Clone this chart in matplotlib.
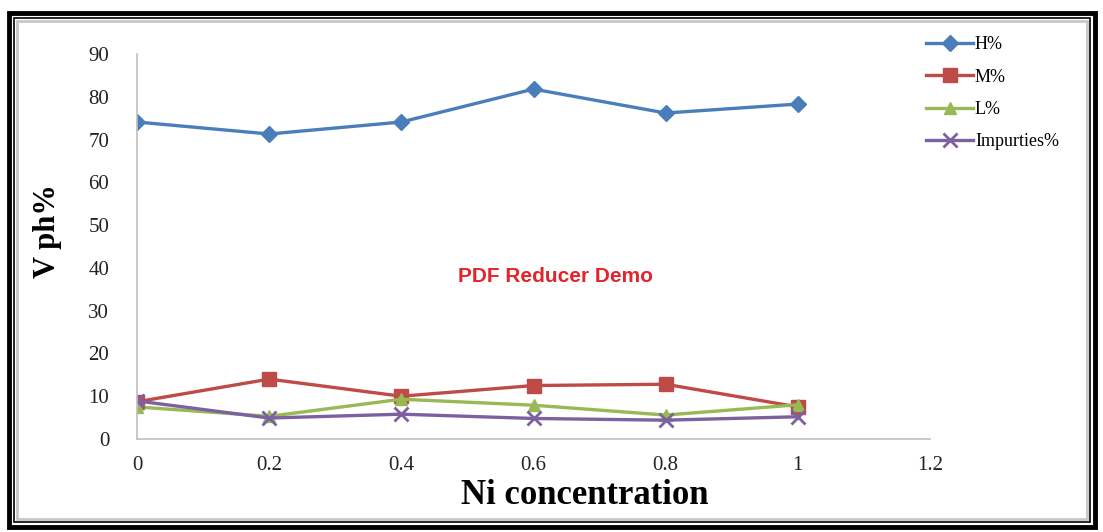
import matplotlib
matplotlib.use("Agg")
import matplotlib.pyplot as plt
from matplotlib.patches import Rectangle
from matplotlib.ticker import FuncFormatter

# values
ni_conc = [0, 0.2, 0.4, 0.6, 0.8, 1]
h_pct = [74.1, 71.3, 74.1, 81.8, 76.2, 78.3]
m_pct = [8.7, 14.0, 10.0, 12.5, 12.8, 7.5]
l_pct = [7.5, 5.3, 9.3, 7.9, 5.6, 8.0]
imp_pct = [8.9, 4.9, 5.8, 4.8, 4.4, 5.2]

series = [
    ("H%", h_pct, "#4a7ebb", "D", 8.5),
    ("M%", m_pct, "#be4b48", "s", 9.5),
    ("L%", l_pct, "#98b954", "^", 9),
    ("Impurties%", imp_pct, "#7d60a0", "x", 10),
]

plt.rcParams["font.family"] = ["Liberation Serif", "DejaVu Serif"]

W, H = 1103, 532
fig = plt.figure(figsize=(W / 100, H / 100), dpi=100)
ax = fig.add_axes([137 / W, 1 - 439 / H, 793 / W, 385 / H])

for name, vals, col, mk, ms in series:
    ax.plot(ni_conc, vals, color=col, lw=2.4, marker=mk, markersize=ms,
            markeredgewidth=2 if mk == "x" else 1, label=name)

ax.set_xlim(0, 1.2)
ax.set_ylim(0, 90)
ax.set_xticks([0, 0.2, 0.4, 0.6, 0.8, 1.0, 1.2])
ax.set_yticks(range(0, 91, 10))
ax.xaxis.set_major_formatter(FuncFormatter(lambda v, p: f"{v:g}"))
ax.tick_params(length=0, labelsize=15, labelcolor="#222222")
ax.tick_params(axis="y", pad=20)
ax.tick_params(axis="x", pad=12)
for s in ("top", "right"):
    ax.spines[s].set_visible(False)
for s in ("left", "bottom"):
    ax.spines[s].set_color("#bfbfbf")
    ax.spines[s].set_linewidth(1.2)
ax.spines["left"].set_bounds(0, 90)

ax.set_xlabel("Ni concentration", fontsize=25, fontweight="bold", va="center")
ax.xaxis.set_label_coords((585 - 137) / 793, (439 - 496) / 385)
ax.set_ylabel("V ph%", fontsize=22, fontweight="bold", va="center")
ax.yaxis.set_label_coords((47 - 137) / 793, (439 - 231) / 385)

ax.text((556 - 137) / 793, (439 - 277) / 385, "PDF Reducer Demo",
        transform=ax.transAxes, color="#e3242b", fontsize=15, fontweight="bold",
        family="Liberation Sans", ha="center", va="center")

ax.legend(loc="upper left", bbox_to_anchor=(910 / W, 1 - 20 / H),
          bbox_transform=fig.transFigure, frameon=False, fontsize=13,
          handlelength=2.6, handletextpad=0.1, labelspacing=0.85)

# double black frame round the picture
fig.patches.append(Rectangle((9 / W, 1 - 527 / H), 1086 / W, 514 / H,
                             transform=fig.transFigure, fill=False,
                             edgecolor="black", lw=3.5))
fig.patches.append(Rectangle((14 / W, 1 - 522 / H), 1076 / W, 504 / H,
                             transform=fig.transFigure, fill=False,
                             edgecolor="black", lw=1.2))
fig.patches.append(Rectangle((17 / W, 1 - 519 / H), 1070 / W, 498 / H,
                             transform=fig.transFigure, fill=False,
                             edgecolor="#c8c8c8", lw=2))

fig.savefig("out.png", dpi=100)
